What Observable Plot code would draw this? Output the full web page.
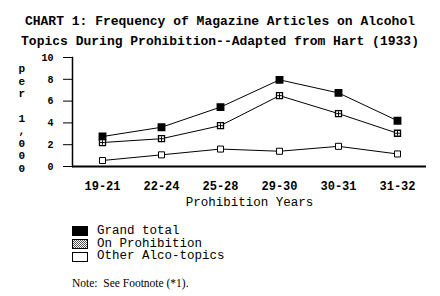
<!DOCTYPE html>
<html>
<head>
<meta charset="utf-8">
<script src="https://cdn.jsdelivr.net/npm/d3@7"></script>
<script src="https://cdn.jsdelivr.net/npm/@observablehq/plot@0.6"></script>
<style>
  body { margin: 0; background: #fff; width: 440px; height: 296px; overflow: hidden; }
  #title { font: bold 13px "Liberation Mono", monospace; line-height: 20px; padding-top: 12px; text-align: center; color: #000; height: 40px; white-space: nowrap; }
  #legend { margin-left: 72px; margin-top: 13px; font: 12.5px "Liberation Mono", monospace; color: #000; }
  .row { height: 12.7px; line-height: 12.7px; display: flex; align-items: center; white-space: nowrap; }
  .sw { width: 14px; height: 8px; border: 1px solid #000; margin-right: 9px; box-sizing: content-box; }
  #note { margin-left: 72px; margin-top: 14px; font: 11.5px "Liberation Serif", serif; color: #000; }
</style>
</head>
<body>
<div id="title">CHART 1: Frequency of Magazine Articles on Alcohol<br>Topics During Prohibition--Adapted from Hart (1933)</div>
<div id="chart"></div>
<div id="legend"></div>
<div id="note">Note:&nbsp; See Footnote (*1).</div>
<script>
const periods = ["19-21", "22-24", "25-28", "29-30", "30-31", "31-32"];
const grandTotal = [2.75, 3.6, 5.45, 7.95, 6.75, 4.2];
const onProhibition = [2.2, 2.55, 3.75, 6.5, 4.85, 3.05];
const otherAlco = [0.55, 1.07, 1.6, 1.4, 1.85, 1.15];
const seriesNames = ["Grand total", "On Prohibition", "Other Alco-topics"];
const yTicks = [0, 2, 4, 6, 8, 10];

const rows = [];
[grandTotal, onProhibition, otherAlco].forEach((vals, s) => {
  periods.forEach((p, i) => rows.push({period: p, value: vals[i], series: seriesNames[s]}));
});
const bySeries = name => rows.filter(d => d.series === name);

const mono = "'Liberation Mono', monospace";
const plot = Plot.plot({
  width: 440,
  height: 160,
  marginLeft: 72,
  marginRight: 14,
  marginTop: 5,
  marginBottom: 46,
  style: {fontFamily: mono, background: "#fff", color: "#000"},
  x: {type: "point", domain: periods, padding: 0.5, label: null},
  y: {domain: [0, 10], label: null},
  marks: [
    Plot.axisY({ticks: yTicks, tickSize: 9, tickPadding: 10, fontSize: 10, fontWeight: "bold", label: null}),
    Plot.axisX({tickSize: 0, tickPadding: 15, fontSize: 12, fontWeight: "bold", label: null}),
    Plot.frame({anchor: "left", stroke: "#000", strokeWidth: 1.5}),
    Plot.ruleY([0], {stroke: "#000", strokeWidth: 2}),
    ...seriesNames.map(n => Plot.line(bySeries(n), {x: "period", y: "value", stroke: "#000", strokeWidth: 1})),
    Plot.dot(bySeries("Grand total"), {x: "period", y: "value", symbol: "square", r: 3.6, fill: "#000", stroke: "#000"}),
    Plot.dot(bySeries("On Prohibition"), {x: "period", y: "value", symbol: "square", r: 3.4, fill: "#fff", stroke: "#000", strokeWidth: 1.3}),
    Plot.dot(bySeries("On Prohibition"), {x: "period", y: "value", symbol: "plus", r: 1.6, stroke: "#000", strokeWidth: 1}),
    Plot.dot(bySeries("Other Alco-topics"), {x: "period", y: "value", symbol: "square", r: 3.4, fill: "#fff", stroke: "#000", strokeWidth: 1}),
    Plot.text(["Prohibition Years"], {frameAnchor: "bottom", dy: 39, fontSize: 12.5, fontFamily: mono, fill: "#000"}),
    Plot.text(["p\ne\nr\n\n1\n,\n0\n0\n0"], {frameAnchor: "left", dx: -54, dy: 6, lineAnchor: "middle", lineHeight: 1.13, fontSize: 11, fontFamily: mono, fontWeight: "bold", fill: "#000"})
  ]
});
document.getElementById("chart").appendChild(plot);

const swatchStyles = [
  "background:#000;",
  "background-color:#fff;background-image:repeating-conic-gradient(#555 0 25%, #fff 0 50%);background-size:2px 2px;",
  "background:#fff;"
];
const legend = document.getElementById("legend");
seriesNames.forEach((n, i) => {
  const row = document.createElement("div");
  row.className = "row";
  row.innerHTML = `<span class="sw" style="${swatchStyles[i]}"></span><span>${n}</span>`;
  legend.appendChild(row);
});
</script>
</body>
</html>
